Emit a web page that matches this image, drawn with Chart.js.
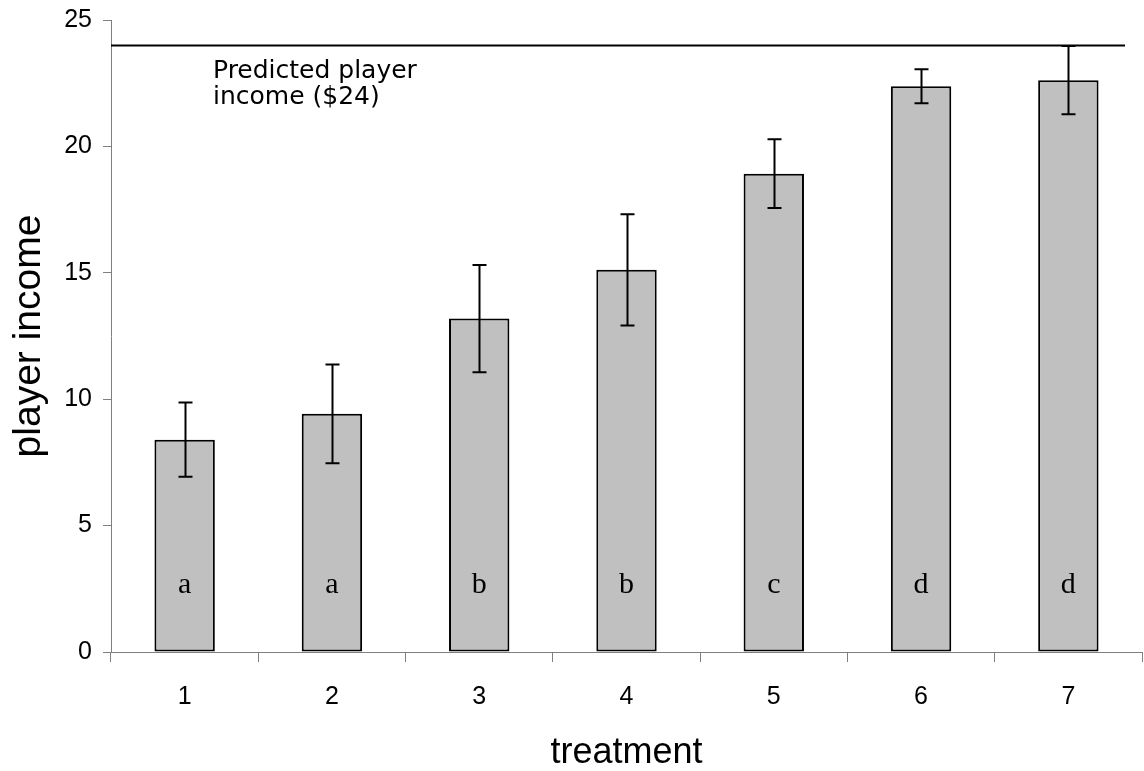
<!DOCTYPE html>
<html>
<head>
<meta charset="utf-8">
<title>Player income by treatment</title>
<script src="https://cdn.jsdelivr.net/npm/chart.js@4.4.1/dist/chart.umd.min.js"></script>
<style>
  html, body { margin: 0; padding: 0; background: #fff; }
  #wrap { width: 1144px; height: 771px; }
</style>
</head>
<body>
<div id="wrap"><canvas id="c" width="1144" height="771"></canvas></div>
<script>
// Mean player income per treatment, with standard-error half widths
const treatments = ['1', '2', '3', '4', '5', '6', '7'];
const meanIncome = [8.40, 9.42, 13.19, 15.12, 18.92, 22.38, 22.62];
const errorHalf = [1.47, 1.95, 2.12, 2.20, 1.36, 0.67, 1.35];
const groupLetters = ['a', 'a', 'b', 'b', 'c', 'd', 'd'];
const predictedIncome = 24;
const predictedLabel = ['Predicted player', 'income ($24)'];
const yTicks = [0, 5, 10, 15, 20, 25];

const AXIS_GREY = '#7f7f7f';

// Error bars, group letters and the predicted-income reference line
const overlays = {
  id: 'overlays',
  afterDatasetsDraw(chart) {
    const { ctx, chartArea, scales: { x, y } } = chart;
    ctx.save();

    // error bars
    ctx.strokeStyle = '#000';
    ctx.lineWidth = 2;
    const cap = 7;
    meanIncome.forEach((m, i) => {
      const cx = Math.round(x.getPixelForValue(i)) + 0.5;
      const top = y.getPixelForValue(m + errorHalf[i]);
      const bot = y.getPixelForValue(m - errorHalf[i]);
      ctx.beginPath();
      ctx.moveTo(cx, top); ctx.lineTo(cx, bot);
      ctx.moveTo(cx - cap, top); ctx.lineTo(cx + cap, top);
      ctx.moveTo(cx - cap, bot); ctx.lineTo(cx + cap, bot);
      ctx.stroke();
    });

    // significance group letters inside the bars
    ctx.fillStyle = '#000';
    ctx.font = '30px "Liberation Serif", "Times New Roman", serif';
    ctx.textAlign = 'center';
    ctx.textBaseline = 'alphabetic';
    const letterY = y.getPixelForValue(2.35);
    groupLetters.forEach((g, i) => {
      ctx.fillText(g, x.getPixelForValue(i), letterY);
    });

    // predicted income line
    const ly = Math.round(y.getPixelForValue(predictedIncome)) + 0.5;
    ctx.lineWidth = 2;
    ctx.beginPath();
    ctx.moveTo(chartArea.left, ly);
    ctx.lineTo(chartArea.right - 17, ly);
    ctx.stroke();

    ctx.font = '25px "DejaVu Sans", Verdana, sans-serif';
    ctx.textAlign = 'left';
    predictedLabel.forEach((t, k) => {
      ctx.fillText(t, chartArea.left + 102, ly + 32 + k * 26);
    });
    ctx.restore();
  }
};

new Chart(document.getElementById('c'), {
  type: 'bar',
  data: {
    labels: treatments,
    datasets: [{
      data: meanIncome,
      backgroundColor: '#c0c0c0',
      borderColor: '#000',
      borderWidth: 2,
      borderSkipped: false,
      categoryPercentage: 1,
      barPercentage: 0.41
    }]
  },
  options: {
    responsive: false,
    devicePixelRatio: 1,
    animation: false,
    layout: { padding: { top: 20, right: 2, left: 0, bottom: 0 } },
    plugins: { legend: { display: false }, tooltip: { enabled: false } },
    scales: {
      x: {
        afterFit(scale) { scale.height = 119; },
        grid: { offset: true, drawOnChartArea: false, drawTicks: true, tickLength: 10, color: AXIS_GREY, lineWidth: 1 },
        border: { display: true, color: AXIS_GREY, width: 1 },
        ticks: { color: '#000', padding: 20, font: { family: '"Liberation Sans", Arial, sans-serif', size: 25 } },
        title: { display: true, text: 'treatment', color: '#000', padding: { top: 0, bottom: 0 },
                 font: { family: '"Liberation Sans", Arial, sans-serif', size: 36, lineHeight: 1 } }
      },
      y: {
        min: 0, max: 25,
        afterFit(scale) { scale.width = 111; scale.paddingTop = 0; scale.paddingBottom = 0; },
        afterBuildTicks(scale) { scale.ticks = yTicks.map(v => ({ value: v })); },
        grid: { drawOnChartArea: false, drawTicks: true, tickLength: 8, color: AXIS_GREY, lineWidth: 1 },
        border: { display: true, color: AXIS_GREY, width: 1 },
        ticks: { color: '#000', padding: 11, font: { family: '"Liberation Sans", Arial, sans-serif', size: 25 } },
        title: { display: true, text: 'player income', color: '#000', padding: { top: 6, bottom: 0 },
                 font: { family: '"Liberation Sans", Arial, sans-serif', size: 39, lineHeight: 1.2 } }
      }
    }
  },
  plugins: [overlays]
});
</script>
</body>
</html>
